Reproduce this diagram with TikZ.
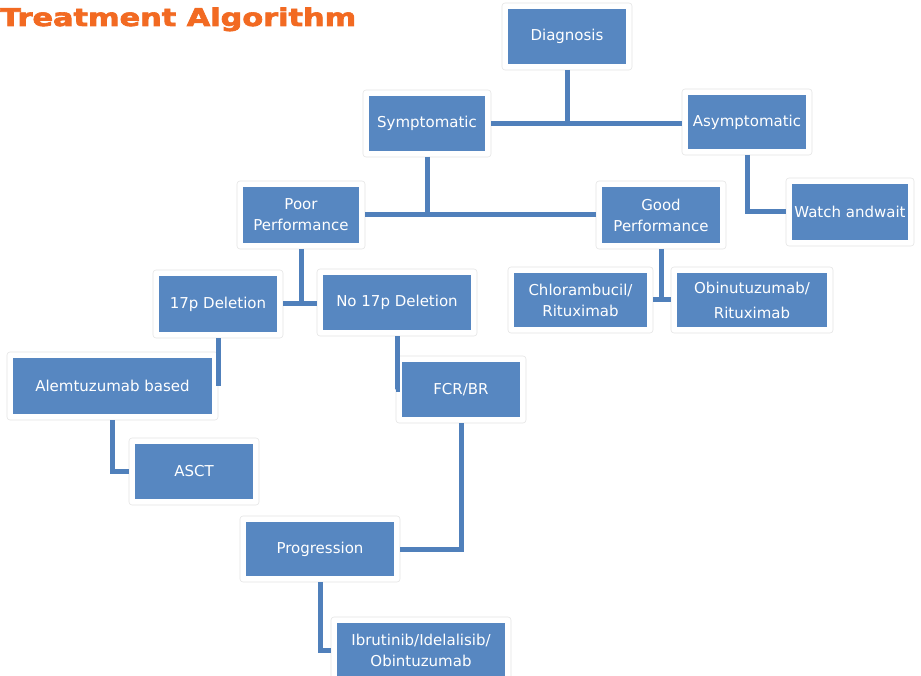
\documentclass[tikz,border=0pt]{standalone}
\usepackage{fontspec}
\setmainfont{DejaVu Sans}
\newfontfamily\titlefont[FakeBold=2.5]{DejaVu Sans Bold}
\definecolor{boxblue}{RGB}{87,135,193}
\definecolor{lineblue}{RGB}{80,128,187}
\definecolor{titleorange}{RGB}{242,106,34}
\tikzset{
  halo/.style={draw=black!10, line width=0.6pt, fill=white, rounded corners=3pt},
  tb/.style={fill=boxblue, text=white, inner sep=0pt, outer sep=6pt, align=center,
             font=\fontsize{15}{21}\selectfont},
  conn/.style={draw=lineblue, line width=5pt},
}
\newcommand\tbox[6]{%
  \draw[halo] ({#2-6},{#3-6}) rectangle ({#4+6},{#5+6});
  \node[tb, minimum width={(#4-#2)*1pt}, minimum height={(#5-#3)*1pt}] (#1) at ({(#2+#4)/2},{(#3+#5)/2}) {#6};
}
\begin{document}
\begin{tikzpicture}[x=1pt,y=-1pt]
\useasboundingbox[fill=white] (0,0) rectangle (921,676);
\node[anchor=base west, inner sep=0pt, text=titleorange] (title) at (0,26)
  {\resizebox{356pt}{18.5pt}{\titlefont Treatment Algorithm}};
% boxes
\tbox{diag}{508}{9}{626}{64}{Diagnosis}
\tbox{sym}{369}{96}{485}{151}{Symptomatic}
\tbox{asym}{688}{95}{806}{149}{Asymptomatic}
\tbox{poor}{243}{187}{359}{243}{Poor\\Performance}
\tbox{good}{602}{187}{720}{243}{Good\\Performance}
\tbox{watch}{792}{184}{908}{240}{Watch andwait}
\tbox{del}{159}{276}{277}{332}{17p Deletion}
\tbox{nodel}{323}{275}{471}{330}{No 17p Deletion}
\tbox{chlor}{514}{273}{647}{327}{Chlorambucil/\\Rituximab}
\tbox{obin}{677}{273}{827}{327}{Obinutuzumab/\\[4pt]Rituximab}
\tbox{alem}{13}{358}{212}{414}{Alemtuzumab based}
\tbox{fcr}{402}{362}{520}{417}{FCR/BR}
\tbox{asct}{135}{444}{253}{499}{ASCT}
\tbox{prog}{246}{522}{394}{576}{Progression}
\tbox{ibr}{337}{623}{505}{678}{Ibrutinib/Idelalisib/\\Obintuzumab}
% connectors
\draw[conn] (sym.east) -- (sym.east -| asym.west);
\draw[conn] (diag.south) -- (diag.south |- sym.east);
\draw[conn] (poor.east) -- (poor.east -| good.west);
\draw[conn] (sym.south) -- (sym.south |- poor.east);
\draw[conn] (asym.south) |- (watch.west);
\draw[conn] (del.east) -- (del.east -| nodel.west);
\draw[conn] (poor.south) -- (poor.south |- del.east);
\draw[conn] (chlor.east) -- (chlor.east -| obin.west);
\draw[conn] (good.south) -- (good.south |- chlor.east);
\draw[conn] (del.south) |- (alem.east);
\draw[conn] (nodel.south) |- (fcr.west);
\draw[conn] (alem.south) |- (asct.west);
\draw[conn] (fcr.south) |- (prog.east);
\draw[conn] (prog.south) |- (ibr.west);
\end{tikzpicture}
\end{document}
